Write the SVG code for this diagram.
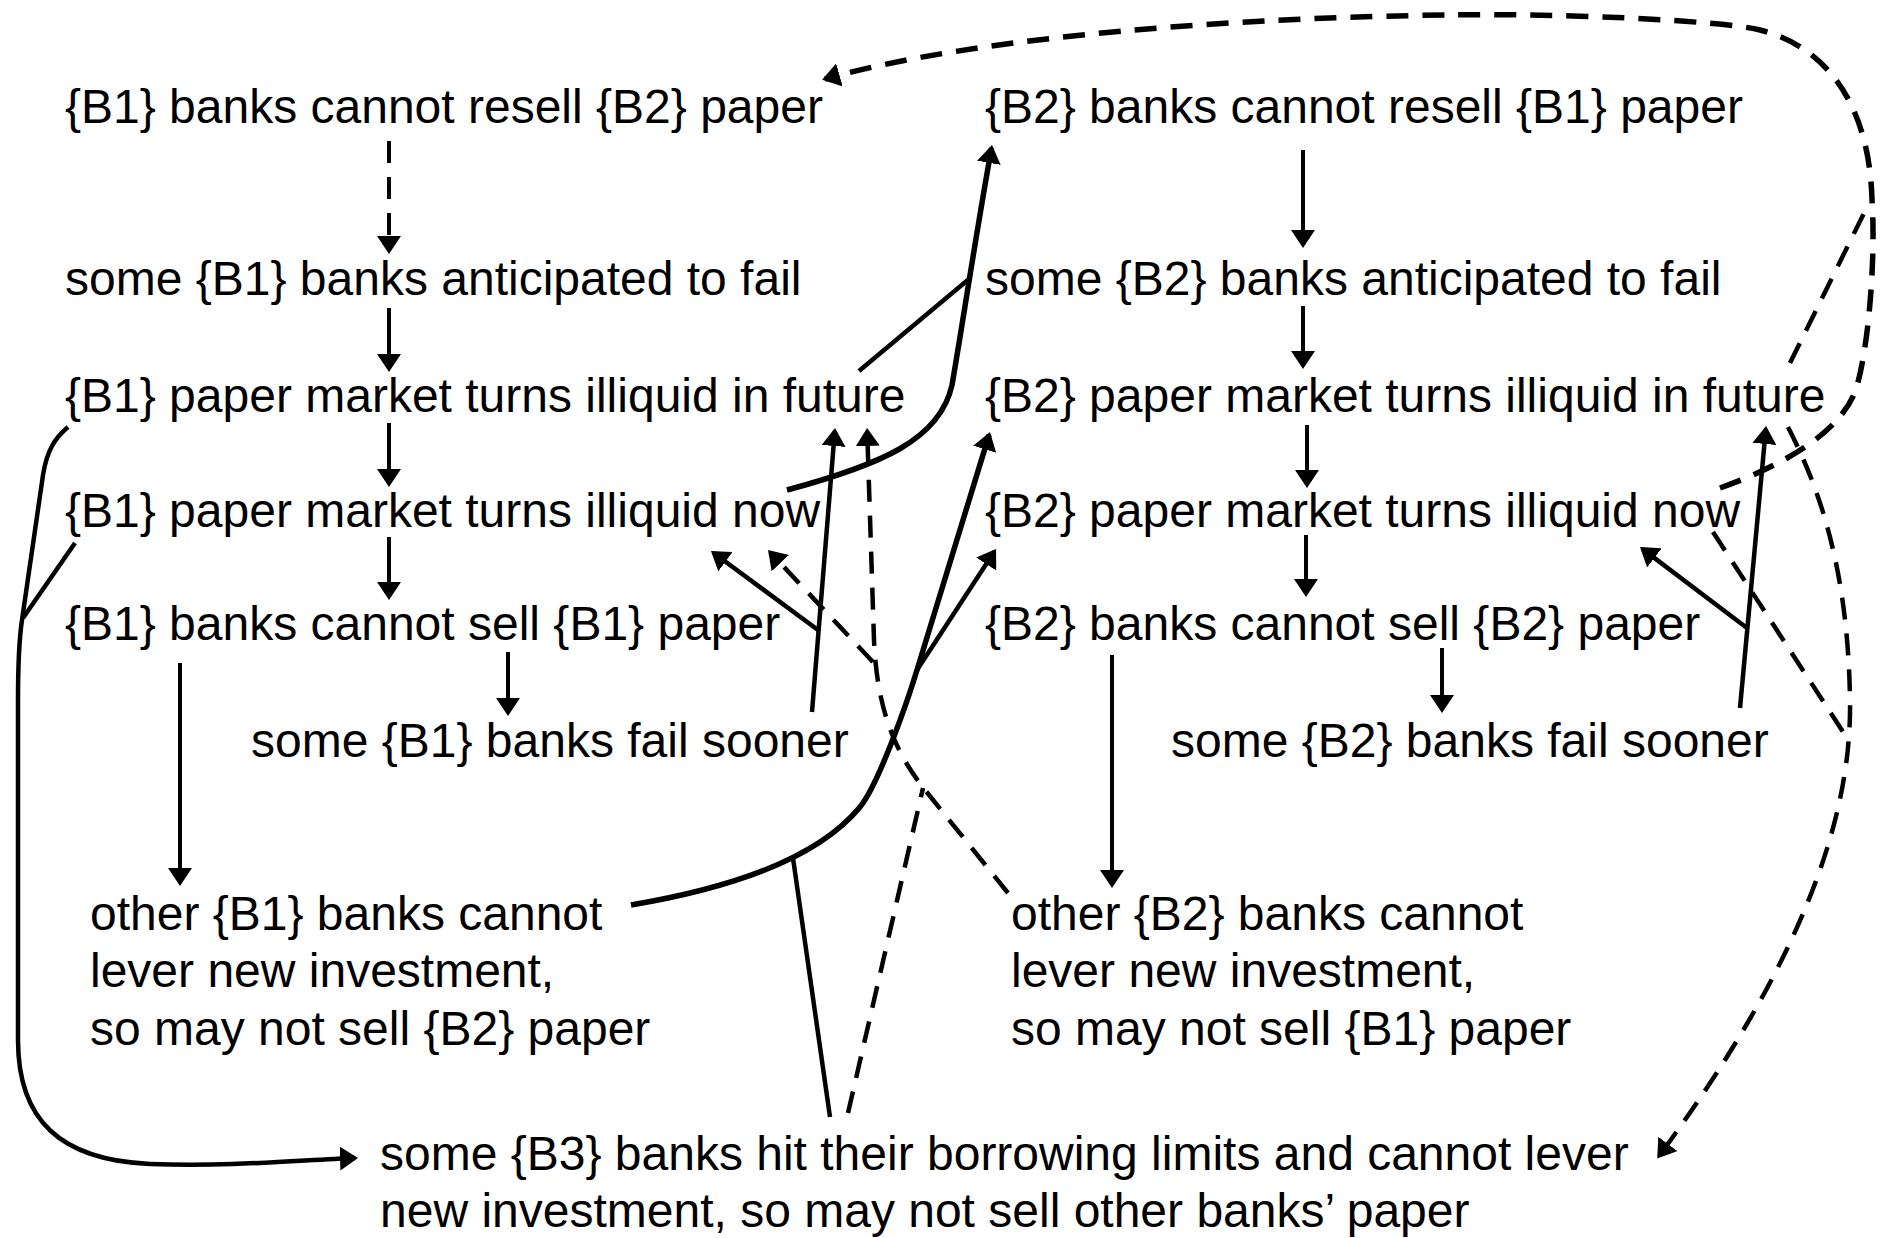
<svg xmlns="http://www.w3.org/2000/svg" width="1883" height="1238" viewBox="0 0 1883 1238">
  <defs>
    <style>
      text { font-family: "Liberation Sans", Arial, Helvetica, sans-serif; font-size: 48px; fill: #000; }
      .ln { fill: none; stroke: #000; stroke-width: 4.5; stroke-linejoin: round; }
      .v { stroke-width: 4; }
      .thick { stroke-width: 5.5; }
      .dash { stroke-dasharray: 22 14; }
      .arr { marker-end: url(#head); }
    </style>
    <marker id="head" markerUnits="userSpaceOnUse" markerWidth="18" markerHeight="24" refX="15" refY="12" orient="auto" viewBox="0 0 18 24">
      <path d="M0,0 L18,12 L0,24 Z" fill="#000"/>
    </marker>
  </defs>

  <rect width="1883" height="1238" fill="#fff"/>

  <!-- B1 column -->
  <g id="b1-resell"><text x="65" y="123">{B1} banks cannot resell {B2} paper</text></g>
  <g id="b1-anticipated"><text x="65" y="295">some {B1} banks anticipated to fail</text></g>
  <g id="b1-future"><text x="65" y="412">{B1} paper market turns illiquid in future</text></g>
  <g id="b1-now"><text x="65" y="527">{B1} paper market turns illiquid now</text></g>
  <g id="b1-cannot-sell"><text x="65" y="640">{B1} banks cannot sell {B1} paper</text></g>
  <g id="b1-fail"><text x="251" y="757">some {B1} banks fail sooner</text></g>
  <g id="b1-other">
    <text x="90" y="930">other {B1} banks cannot</text>
    <text x="90" y="987">lever new investment,</text>
    <text x="90" y="1045">so may not sell {B2} paper</text>
  </g>

  <!-- B2 column -->
  <g id="b2-resell"><text x="985" y="123">{B2} banks cannot resell {B1} paper</text></g>
  <g id="b2-anticipated"><text x="985" y="295">some {B2} banks anticipated to fail</text></g>
  <g id="b2-future"><text x="985" y="412">{B2} paper market turns illiquid in future</text></g>
  <g id="b2-now"><text x="985" y="527">{B2} paper market turns illiquid now</text></g>
  <g id="b2-cannot-sell"><text x="985" y="640">{B2} banks cannot sell {B2} paper</text></g>
  <g id="b2-fail"><text x="1171" y="757">some {B2} banks fail sooner</text></g>
  <g id="b2-other">
    <text x="1011" y="930">other {B2} banks cannot</text>
    <text x="1011" y="987">lever new investment,</text>
    <text x="1011" y="1045">so may not sell {B1} paper</text>
  </g>

  <!-- B3 -->
  <g id="b3">
    <text x="380" y="1170">some {B3} banks hit their borrowing limits and cannot lever</text>
    <text x="380" y="1227">new investment, so may not sell other banks’ paper</text>
  </g>

  <g id="connectors">
    <!-- B1 column chain -->
    <path class="ln v dash arr" d="M389,141 V251"/>
    <path class="ln v arr" d="M389,308 V369"/>
    <path class="ln v arr" d="M389,423 V484"/>
    <path class="ln v arr" d="M389,537 V597"/>
    <path class="ln v arr" d="M508,652 V713"/>
    <path class="ln v arr" d="M180,663 V883"/>

    <!-- B2 column chain -->
    <path class="ln v arr" d="M1303,150 V245"/>
    <path class="ln v arr" d="M1303,306 V366"/>
    <path class="ln v arr" d="M1307,425 V485"/>
    <path class="ln v arr" d="M1306,535 V594"/>
    <path class="ln v arr" d="M1442,648 V710"/>
    <path class="ln v arr" d="M1112,655 V885"/>

    <!-- B1 failures feed back into B1 market -->
    <path class="ln arr" d="M812,712 L834.8,431"/>
    <path class="ln arr" d="M818,630 L713.4,552.8"/>

    <!-- B2 failures feed back into B2 market -->
    <path class="ln arr" d="M1740,708 L1765.8,429"/>
    <path class="ln arr" d="M1747,628 L1642.4,548.9"/>

    <!-- B1 illiquidity -> B2 cannot resell B1 paper -->
    <path class="ln" d="M859,371 L969,279"/>
    <path class="ln thick arr" d="M787,490 C880,465 940,440 952,385 C960,340 975,240 991.5,148"/>

    <!-- other B1 banks + B3 -> B2 market -->
    <path class="ln thick arr" d="M631,905 C720,890 815,862 860,807 C878,785 906,706 917,670 L989.1,434.9"/>
    <path class="ln arr" d="M917,670 L994.4,551.5"/>
    <path class="ln" d="M830,1117 L793,858"/>

    <!-- other B2 banks + B3 -> B1 market (dashed) -->
    <path class="ln dash arr" d="M1008,893 L925,790 C895,752 877,710 874,640 L867.2,431"/>
    <path class="ln dash arr" d="M873,662 L770.1,552.2"/>
    <path class="ln dash" d="M848,1113 L923,788"/>

    <!-- B1 market -> B3 -->
    <path class="ln arr" d="M68,427 C55,438 47,450 43,475 L22,620 C19,640 18,660 18,700 L18,1040 C18,1120 60,1160 150,1164 C230,1167 300,1160 355,1158"/>
    <path class="ln" d="M75,543 L23,618"/>

    <!-- B2 market -> B1 cannot resell B2 paper (dashed) -->
    <path class="ln thick dash arr" d="M1720,488 C1790,463 1840,430 1855,392 C1868,355 1876,260 1872,200 C1870,120 1838,50 1760,30 C1720,20 1550,13 1450,15 C1250,17 980,35 825,79"/>
    <path class="ln dash" d="M1790,363 L1868,205"/>

    <!-- B2 market -> B3 (dashed) -->
    <path class="ln dash arr" d="M1788,427 C1815,480 1848,560 1850,700 C1852,820 1800,965 1659,1156"/>
    <path class="ln dash" d="M1713,532 L1847,738"/>
  </g>
</svg>
